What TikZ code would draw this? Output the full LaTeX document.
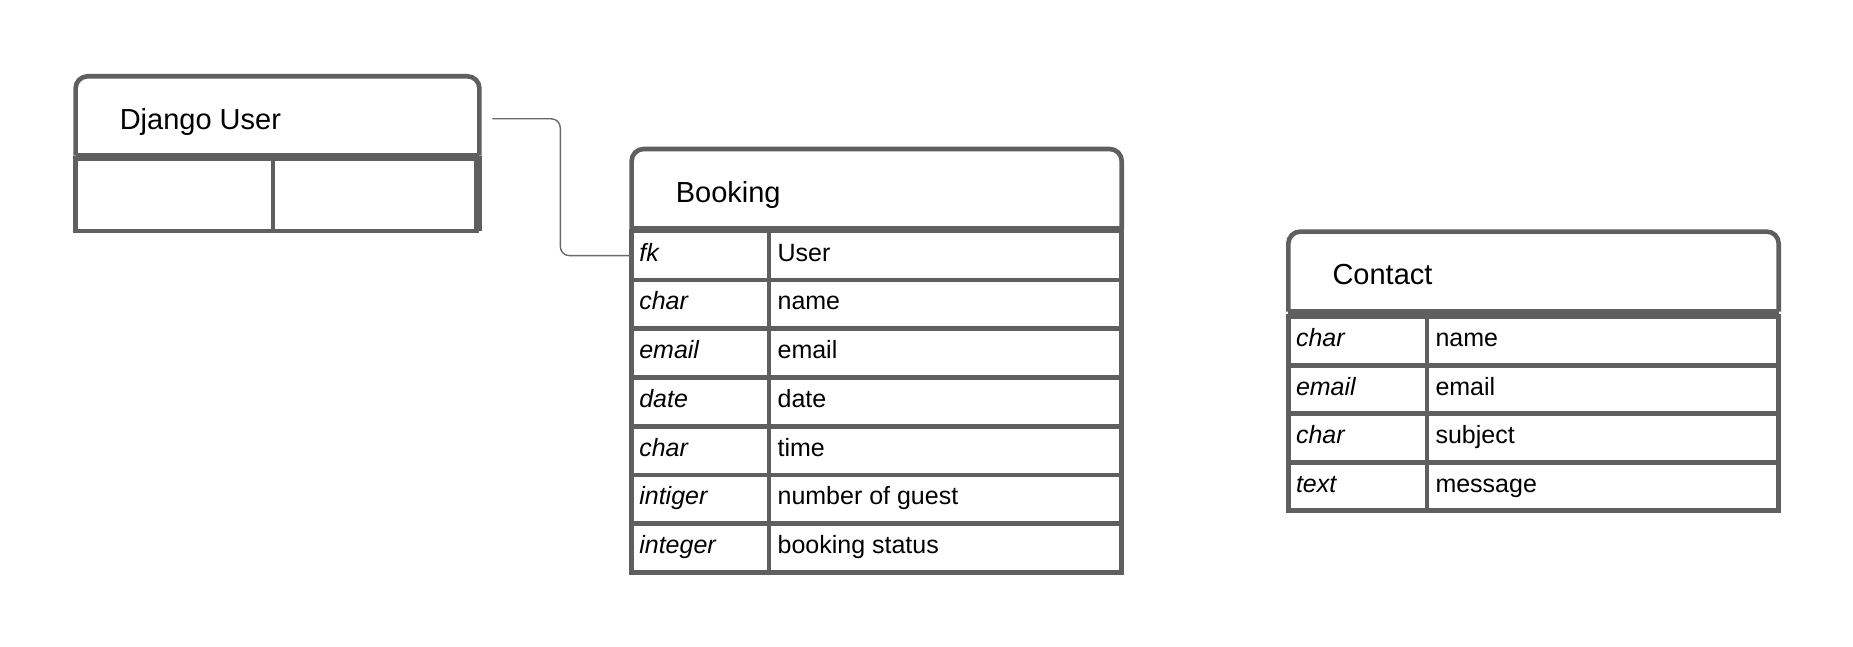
\documentclass[tikz,border=0pt]{standalone}
\usepackage{fontspec}
\setmainfont{Liberation Sans}
\usetikzlibrary{calc}
\definecolor{lineg}{HTML}{5F5F5F}
\definecolor{conng}{HTML}{6A6A6A}
\newcommand\mytitlefont{\fontsize{29pt}{33pt}\selectfont}
\newcommand\myrowfont{\fontsize{25pt}{29pt}\selectfont}
\tikzset{
  tbl/.style={draw=lineg, line width=4.6pt},
  hdrbox/.style={rectangle, inner sep=0pt, outer sep=0pt, anchor=north west},
  cellbox/.style={rectangle, draw=lineg, line width=4.6pt, inner sep=0pt, outer sep=0pt, anchor=north west},
  titletxt/.style={anchor=base west, inner sep=0pt, font=\mytitlefont},
  typetxt/.style={anchor=base west, inner sep=0pt, font=\myrowfont\itshape},
  nametxt/.style={anchor=base west, inner sep=0pt, font=\myrowfont},
  conn/.style={draw=conng, line width=1.4pt, rounded corners=9pt},
}
\begin{document}
\begin{tikzpicture}[x=1pt, y=-1pt]
\fill[white] (0,0) rectangle (1853,647);
\useasboundingbox (0,0) rectangle (1853,647);

% ---------- Django User ----------
\node[hdrbox, minimum width=403.8pt, minimum height=79.3pt] (dj) at (75.6,76.3) {};
\draw[tbl, rounded corners=12pt] (dj.south west) -- (dj.north west) -- (dj.north east) -- (dj.south east);
\draw[tbl] (dj.south west) -- (dj.south east);
\node[titletxt] (dj-title) at ($(dj.north west)+(44,53)$) {Django User};
\node[cellbox, minimum width=197.3pt, minimum height=72.8pt] (dj-a) at (75.6,158.4) {};
\node[cellbox, minimum width=203.6pt, minimum height=72.8pt] (dj-b) at (272.9,158.4) {};
\draw[tbl] (dj.south east) -- (dj-b.south east -| dj.south east);

% ---------- Booking ----------
\node[hdrbox, minimum width=490.1pt, minimum height=79.8pt] (bk) at (631.6,149) {};
\draw[tbl, rounded corners=12pt] (bk.south west) -- (bk.north west) -- (bk.north east) -- (bk.south east);
\draw[tbl] (bk.south west) -- (bk.south east);
\node[titletxt] (bk-title) at ($(bk.north west)+(44,53.7)$) {Booking};
\foreach [count=\i] \t/\n in {fk/User,char/name,email/email,date/date,char/time,intiger/number of guest,integer/booking status}{
  \pgfmathsetmacro\yy{231.2+(\i-1)*48.76}
  \node[cellbox, minimum width=137.3pt, minimum height=48.76pt] (bk-t\i) at (631.6,\yy) {};
  \node[cellbox, minimum width=352.8pt, minimum height=48.76pt] (bk-n\i) at (768.9,\yy) {};
  \node[typetxt] (bk-tt\i) at ($(bk-t\i.west)+(7.5,5.6)$) {\t};
  \node[nametxt] (bk-nt\i) at ($(bk-n\i.west)+(8.5,5.6)$) {\n};
}

% ---------- Contact ----------
\node[hdrbox, minimum width=490.4pt, minimum height=80.1pt] (ct) at (1288.3,231.6) {};
\draw[tbl, rounded corners=12pt] (ct.south west) -- (ct.north west) -- (ct.north east) -- (ct.south east);
\draw[tbl] (ct.south west) -- (ct.south east);
\node[titletxt] (ct-title) at ($(ct.north west)+(44,52.4)$) {Contact};
\foreach [count=\i] \t/\n in {char/name,email/email,char/subject,text/message}{
  \pgfmathsetmacro\yy{316.7+(\i-1)*48.5}
  \node[cellbox, minimum width=138.5pt, minimum height=48.5pt] (ct-t\i) at (1288.3,\yy) {};
  \node[cellbox, minimum width=351.9pt, minimum height=48.5pt] (ct-n\i) at (1426.8,\yy) {};
  \node[typetxt] (ct-tt\i) at ($(ct-t\i.west)+(7.5,5.6)$) {\t};
  \node[nametxt] (ct-nt\i) at ($(ct-n\i.west)+(8.5,5.6)$) {\n};
}

% ---------- connector ----------
\coordinate (djout) at (492.4,118.8);
\draw[conn] (djout) -- (560.3,118.8) |- (bk-t1.west);
\end{tikzpicture}
\end{document}
